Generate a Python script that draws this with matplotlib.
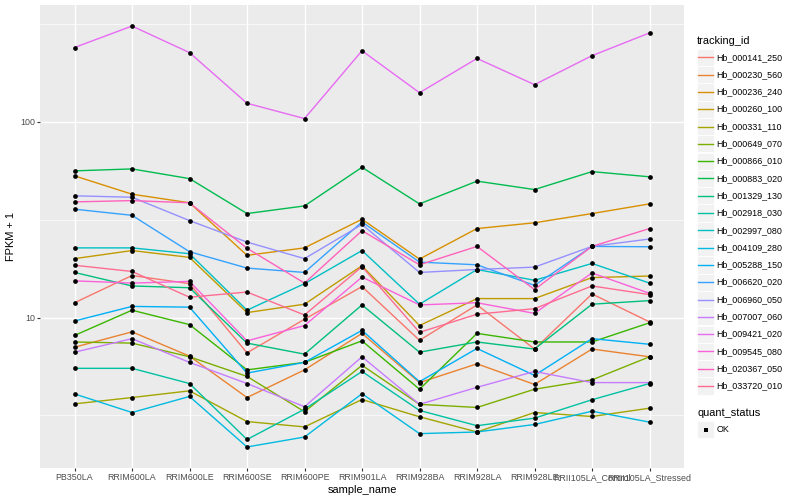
import numpy as np
import matplotlib
matplotlib.use("Agg")
import matplotlib.pyplot as plt
from matplotlib.patches import Rectangle
from matplotlib.lines import Line2D

plt.rcParams['font.family'] = ['Liberation Sans', 'DejaVu Sans']

samples = ["PB350LA", "RRIM600LA", "RRIM600LE", "RRIM600SE", "RRIM600PE",
           "RRIM901LA", "RRIM928BA", "RRIM928LA", "RRIM928LE",
           "RRII105LA_Control", "RRII105LA_Stressed"]

tracking_ids = ["Hb_000141_250", "Hb_000230_560", "Hb_000236_240", "Hb_000260_100",
                "Hb_000331_110", "Hb_000649_070", "Hb_000866_010", "Hb_000883_020",
                "Hb_001329_130", "Hb_002918_030", "Hb_002997_080", "Hb_004109_280",
                "Hb_005288_150", "Hb_006620_020", "Hb_006960_050", "Hb_007007_060",
                "Hb_009421_020", "Hb_009545_080", "Hb_020367_050", "Hb_033720_010"]

# FPKM + 1 values, one list per tracking_id (same order as samples)
Hb_000141_250 = [11.9, 16.4, 14.9, 6.6, 9.8, 14.4, 7.65, 11.6, 6.9, 13.2, 9.5]
Hb_000230_560 = [7.05, 8.45, 6.35, 3.9, 5.4, 8.3, 4.65, 5.8, 4.55, 6.9, 6.3]
Hb_000236_240 = [53.0, 42.7, 38.6, 20.8, 22.7, 31.8, 19.9, 28.5, 30.5, 34.0, 38.1]
Hb_000260_100 = [20.0, 22.0, 20.3, 10.6, 11.7, 18.4, 9.1, 12.5, 12.5, 16.0, 16.3]
Hb_000331_110 = [3.62, 3.9, 4.22, 2.94, 2.76, 3.81, 3.11, 2.6, 3.27, 3.12, 3.44]
Hb_000649_070 = [7.5, 7.4, 6.3, 5.0, 3.3, 5.7, 3.6, 3.47, 4.3, 4.8, 6.3]
Hb_000866_010 = [8.1, 10.9, 9.2, 5.4, 5.9, 7.6, 4.3, 8.3, 7.5, 7.5, 9.4]
Hb_000883_020 = [56.2, 57.5, 51.3, 34.0, 37.2, 58.6, 38.1, 49.8, 45.1, 55.7, 52.4]
Hb_001329_130 = [17.0, 14.5, 14.2, 7.4, 6.5, 11.6, 6.65, 7.5, 6.9, 11.7, 12.2]
Hb_002918_030 = [5.5, 5.5, 4.6, 2.38, 3.4, 5.3, 3.35, 2.8, 3.06, 3.8, 4.6]
Hb_002997_080 = [22.7, 22.7, 21.2, 10.9, 14.9, 22.0, 11.7, 17.6, 15.5, 18.9, 15.0]
Hb_004109_280 = [4.07, 3.27, 3.95, 2.18, 2.45, 4.08, 2.55, 2.6, 2.84, 3.32, 2.92]
Hb_005288_150 = [9.6, 11.4, 11.3, 5.2, 5.9, 8.6, 4.7, 6.95, 5.06, 7.8, 7.3]
Hb_006620_020 = [35.8, 33.3, 21.7, 17.9, 17.0, 30.8, 19.2, 18.6, 14.6, 23.1, 23.0]
Hb_006960_050 = [41.9, 41.2, 31.3, 24.3, 20.0, 29.9, 17.0, 17.6, 18.1, 23.1, 25.2]
Hb_007007_060 = [6.65, 7.8, 5.9, 4.6, 3.5, 6.3, 3.6, 4.4, 5.3, 4.65, 4.65]
Hb_009421_020 = [240, 309, 226, 124.5, 104, 231, 141, 211, 155, 218, 285]
Hb_009545_080 = [15.4, 15.0, 15.3, 7.6, 9.1, 16.1, 11.6, 11.9, 10.5, 16.9, 13.3]
Hb_020367_050 = [39.0, 39.6, 38.6, 22.6, 15.0, 27.8, 18.6, 23.1, 13.9, 23.1, 28.5]
Hb_033720_010 = [18.5, 17.2, 12.7, 13.5, 10.3, 18.2, 8.4, 10.4, 11.1, 14.5, 13.1]

series = [Hb_000141_250, Hb_000230_560, Hb_000236_240, Hb_000260_100, Hb_000331_110,
          Hb_000649_070, Hb_000866_010, Hb_000883_020, Hb_001329_130, Hb_002918_030,
          Hb_002997_080, Hb_004109_280, Hb_005288_150, Hb_006620_020, Hb_006960_050,
          Hb_007007_060, Hb_009421_020, Hb_009545_080, Hb_020367_050, Hb_033720_010]

colors = ["#F8766D", "#EA8331", "#D89000", "#C09B00", "#A3A500", "#7CAE00", "#39B600",
          "#00BB4E", "#00BF7D", "#00C1A3", "#00BFC4", "#00BAE0", "#00B0F6", "#35A2FF",
          "#9590FF", "#C77CFF", "#E76BF3", "#FA62DB", "#FF62BC", "#FF6C91"]

W, H = 800, 500
fig = plt.figure(figsize=(W / 100, H / 100), dpi=100)
fig.patch.set_facecolor("white")

def fx(x):
    return x / W

def fy(y):
    return 1 - y / H

L, R, T, B = 40, 684, 5, 468
ax = fig.add_axes([fx(L), fy(B), (R - L) / W, (B - T) / H])
ax.set_facecolor("#EBEBEB")
for s in ax.spines.values():
    s.set_visible(False)

xs = np.arange(len(samples))
for vals, c in zip(series, colors):
    ax.plot(xs, vals, color=c, lw=1.0, zorder=3, solid_capstyle="butt")
for vals in series:
    ax.plot(xs, vals, ls="none", marker="o", ms=3.4, mfc="black", mec="black",
            mew=0, zorder=4)

ax.set_yscale("log")
allv = np.log10(np.concatenate([np.array(v, float) for v in series]))
lo, hi = allv.min(), allv.max()
r = hi - lo
ax.set_ylim(10 ** (lo - 0.05 * r), 10 ** (hi + 0.05 * r))
ax.set_xlim(-0.6, len(samples) - 1 + 0.6)

ax.set_yticks([10, 100])
ax.set_yticklabels(["10", "100"])
ax.set_yticks([10 ** 0.5, 10 ** 1.5, 10 ** 2.5], minor=True)
ax.set_yticklabels([], minor=True)
ax.set_xticks(xs)
ax.set_xticklabels(samples)

ax.grid(True, which="major", color="white", lw=1.0, zorder=1)
ax.grid(True, which="minor", axis="y", color="white", lw=0.5, zorder=1)
ax.set_axisbelow(True)
ax.tick_params(axis="both", which="major", length=2.0, width=0.8, color="#333333",
               labelsize=6.4, labelcolor="#4D4D4D", pad=1.6)
ax.tick_params(axis="y", which="minor", length=0)

ax.set_xlabel("sample_name", fontsize=7.9, labelpad=2)
ax.set_ylabel("FPKM + 1", fontsize=7.9, labelpad=3)

# Legend: tracking_id
fig.text(fx(697), fy(40.5), "tracking_id", fontsize=7.9, va="center", ha="left")
y0, dy = 57.3, 17.3
for i, (name, c) in enumerate(zip(tracking_ids, colors)):
    yc = y0 + i * dy
    fig.add_artist(Rectangle((fx(697), fy(yc + 8.6)), 17 / W, 17.2 / H,
                             facecolor="#F2F2F2", edgecolor="white", lw=0.6,
                             transform=fig.transFigure))
    fig.add_artist(Line2D([fx(698), fx(712.5)], [fy(yc), fy(yc)], color=c, lw=1.0,
                          transform=fig.transFigure))
    fig.text(fx(716.5), fy(yc), name, fontsize=6.4, va="center", ha="left")

# Legend: quant_status
fig.text(fx(697), fy(412.5), "quant_status", fontsize=7.9, va="center", ha="left")
yc = 429.5
fig.add_artist(Rectangle((fx(697), fy(yc + 8.6)), 17 / W, 17.2 / H,
                         facecolor="#F2F2F2", edgecolor="white", lw=0.6,
                         transform=fig.transFigure))
fig.add_artist(Line2D([fx(705.5)], [fy(yc)], ls="none", marker="s", ms=3.0,
                      mfc="black", mec="black", mew=0, transform=fig.transFigure))
fig.text(fx(716.5), fy(yc), "OK", fontsize=6.4, va="center", ha="left")

fig.savefig("out.png", dpi=100, facecolor="white")
